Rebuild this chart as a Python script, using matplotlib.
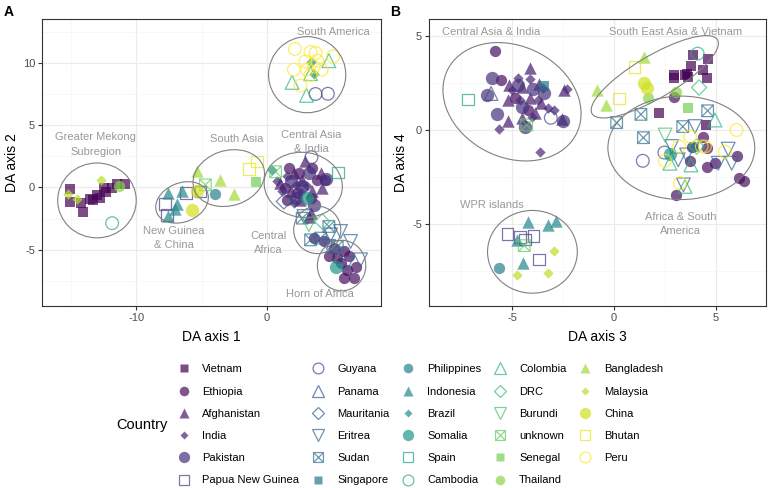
import numpy as np
import matplotlib
matplotlib.use("Agg")
import matplotlib.pyplot as plt
from matplotlib.patches import Ellipse
from matplotlib.path import Path
from matplotlib.lines import Line2D
from matplotlib.ticker import MultipleLocator

plt.rcParams['font.family'] = ['Liberation Sans', 'DejaVu Sans']
plt.rcParams['axes.unicode_minus'] = False

# Countries in legend order (viridis colours, ggplot shape cycle)
countries = ["Vietnam", "Ethiopia", "Afghanistan", "India", "Pakistan",
             "Papua New Guinea", "Guyana", "Panama", "Mauritania", "Eritrea",
             "Sudan", "Singapore", "Philippines", "Indonesia", "Brazil",
             "Somalia", "Spain", "Cambodia", "Colombia", "DRC", "Burundi",
             "unknown", "Senegal", "Thailand", "Bangladesh", "Malaysia",
             "China", "Bhutan", "Peru"]

# Panel A: DA axis 1 / DA axis 2, per country ([x], [y])
pts_a = {
    "Vietnam": ([-15.05, -15.05, -14.2, -14.03, -13.52, -13.01, -12.76, -12.3, -11.86, -11.48, -10.84, -12.45, -13.27],
                [-0.13, -1.18, -1.26, -1.93, -0.94, -0.59, -0.86, -0.4, -0.05, 0.29, 0.29, -0.05, -0.99]),
    "Ethiopia": ([1.66, 3.44, 2.42, 3.83, 1.40, 2.30, 3.32, 4.46, 1.53, 3.57, 4.34, 5.1, 5.87, 5.36, 6.25, 6.76, 5.87, 6.63, 6.12, 4.72, 5.61],
                 [1.55, 1.55, 1.15, 0.61, -0.05, -0.45, -0.86, 0.61, -0.99, -4.06, -4.33, -4.87, -5.13, -5.67, -5.53, -6.34, -7.27, -7.27, -6.6, -5.53, -6.07]),
    "Afghanistan": ([2.86, 2.04, 1.02, 2.68, 4.21, 3.44, 2.55, 1.79, 3.32, 4.08, 3.19],
                    [2.09, 1.15, 0.35, 0.61, -0.05, -0.32, -0.99, -0.32, -2.06, 1.15, -2.33]),
    "India": ([0.77, 1.15, 2.17, 3.06, 2.04, 1.5, 2.6],
              [0.48, -0.32, 0.21, 0.08, -1.26, 0.9, -0.4]),
    "Pakistan": ([2.68, 3.19, 1.79, 3.57, 2.17, 4.5],
                 [0.08, 1.15, 0.48, -1.39, -0.86, 0.7]),
    "Papua New Guinea": ([-7.78, -6.2, -5.1, -7.65], [-1.31, -0.45, -0.32, -2.19]),
    "Guyana": ([3.70, 4.64, 3.39], [7.49, 7.51, 2.43]),
    "Mauritania": ([1.28], [-1.12]),
    "Eritrea": ([2.81, 4.85, 5.61, 6.38, 7.14, 6.12, 4.72, 5.1],
                [-2.33, -3.8, -3.53, -4.33, -5.8, -6.07, -4.73, -5.27]),
    "Sudan": ([2.68, 4.72, 3.32, 4.08, 5.36], [-2.46, -3.13, -4.2, -4.06, -4.73]),
    "Philippines": ([-3.95], [-0.51]),
    "Indonesia": ([-7.58, -6.5, -6.89, -7.02, -7.58], [-0.45, -0.32, -1.31, -1.74, -2.27]),
    "Brazil": ([3.37, 3.57, 0.38], [10.03, 9.06, 1.42]),
    "Somalia": ([3.01, 5.23], [-0.86, -6.34]),
    "Spain": ([5.43], [1.2]),
    "Cambodia": ([-11.84], [-2.86]),
    "Colombia": ([4.72, 1.91, 3.01, 3.32], [10.16, 8.42, 7.38, 9.12]),
    "DRC": ([4.21], [-2.73]),
    "Burundi": ([3.19], [-2.99]),
    "unknown": ([-4.72, 0.65], [0.21, 1.26]),
    "Senegal": ([-0.82], [0.43]),
    "Thailand": ([-11.28], [0.08]),
    "Bangladesh": ([-5.36, -3.62, -2.55], [1.28, 0.61, -0.53]),
    "Malaysia": ([-15.18, -14.54, -12.7], [-0.53, -0.94, 0.61]),
    "China": ([-5.74, -5.36], [-1.79, -0.27]),
    "Bhutan": ([-1.4, -0.77], [1.5, 2.09]),
    "Peru": ([2.12, 3.32, 3.70, 2.93, 3.83, 3.57, 3.06, 4.16, 2.04, 5.03, 2.55, 3.32],
             [11.1, 10.86, 10.78, 10.1, 10.16, 9.7, 9.44, 9.44, 9.44, 10.5, 8.16, 9.04]),
}

# Panel B: DA axis 3 / DA axis 4
pts_b = {
    "Vietnam": ([3.89, 4.62, 3.77, 2.96, 3.56, 4.38, 4.58, 2.96, 3.64, 2.22, 4.49, 3.5],
                [3.98, 3.8, 3.39, 2.92, 3.0, 3.18, 2.74, 2.74, 2.83, 0.88, 0.27, 2.9]),
    "Ethiopia": ([3.81, 4.38, 4.54, 4.54, 4.95, 6.01, 6.13, 6.39, 3.02, 3.73, 2.94, -5.83, -5.56, -4.85, -4.2],
                 [-0.88, -0.35, -0.97, -1.98, -1.77, -1.41, -2.56, -2.7, -3.48, -1.63, 1.77, 4.2, 2.65, 1.68, 1.06]),
    "Afghanistan": ([-4.12, -5.15, -4.53, -3.68, -5.21, -4.12, -5.18, -3.87, -2.43, -2.56, -4.53, -3.59],
                    [3.27, 2.39, 2.3, 2.47, 1.59, 1.68, 0.48, 0.88, 2.12, 0.57, 0.62, 1.41]),
    "India": ([-4.69, -4.12, -4.61, -3.46, -3.25, -2.92, -5.64, -3.63, -4.04, -5.02, -2.32, -3.71],
              [2.74, 2.7, 1.59, 2.21, 1.15, 1.06, 0.04, -1.15, 0.71, 2.12, 2.16, 1.59]),
    "Pakistan": ([-5.96, -6.24, -5.75, -4.36, -4.53, -3.95, -2.48, -3.42, -4.69],
                 [2.74, 1.86, 0.83, 0.18, 1.24, 2.16, 0.49, 1.94, 2.39]),
    "Papua New Guinea": ([-5.23, -4.61, -3.95, -3.68, -4.36], [-5.53, -5.69, -5.65, -6.89, -5.83]),
    "Guyana": ([-3.1, 1.41, 2.47], [0.65, -1.64, -1.2]),
    "Panama": ([-6.03], [1.94]),
    "Eritrea": ([3.97, 5.6, 5.11, 5.77, 3.4, 3.15, 3.56, 2.83],
                [0.18, -1.02, -1.77, -1.77, -2.92, -1.59, -1.33, -0.88]),
    "Sudan": ([0.13, 1.32, 4.59, 1.44, 3.37], [0.39, 0.83, 1.02, -0.41, 0.18]),
    "Singapore": ([-3.42, 3.9], [2.35, -0.9]),
    "Philippines": ([-5.62], [-7.33]),
    "Indonesia": ([-4.23, -3.25, -2.86, -4.77, -4.44], [-4.91, -5.04, -4.86, -5.87, -7.07]),
    "Somalia": ([2.74], [-1.27]),
    "Spain": ([-7.17], [1.63]),
    "Cambodia": ([4.1], [4.06]),
    "Colombia": ([4.95, 3.77, 2.74, 3.48], [0.53, -1.86, -1.77, -3.0]),
    "DRC": ([4.17, 4.05], [2.26, -0.88]),
    "Burundi": ([2.5], [-0.27]),
    "unknown": ([-4.28, -4.4], [0.27, -6.15]),
    "Senegal": ([3.64], [1.15]),
    "Thailand": ([1.65, 3.02], [1.68, 2.03]),
    "Bangladesh": ([1.49, -0.83, -0.39], [3.89, 2.12, 1.33]),
    "Malaysia": ([-2.92, -4.77, -3.22], [-6.45, -7.69, -7.63]),
    "China": ([1.49, 1.6], [2.51, 2.21]),
    "Bhutan": ([1.0, 0.25], [3.36, 1.68]),
    "Peru": ([3.73, 6.01, 5.44, 3.19, 2.5, 3.24, 4.3, 4.46],
             [-0.35, 0.0, -1.15, -0.88, -1.63, -2.83, -0.88, -0.88]),
}

# Group ellipses: (cx, cy, width, height, angle) and labels
ell_a = [(3.06, 9.04, 5.9, 6.1, 0), (-13.0, -1.04, 6.0, 6.0, 0),
         (-6.5, -1.2, 4.2, 3.1, 25), (-2.93, 0.75, 5.6, 4.4, 20),
         (2.76, 0.21, 6.0, 5.2, -10), (3.83, -3.4, 3.6, 3.8, 0),
         (5.69, -6.26, 3.7, 4.05, 0)]
lab_a = [(5.03, 12.46, "South America"), (-13.1, 3.45, "Greater Mekong\nSubregion"),
         (-2.3, 3.88, "South Asia"), (3.4, 3.65, "Central Asia\n& India"),
         (-7.1, -4.05, "New Guinea\n& China"), (0.1, -4.45, "Central\nAfrica"),
         (4.05, -8.53, "Horn of Africa")]
ell_b = [(-5.0, 1.5, 7.2, 5.8, -35), (2.0, 2.83, 7.3, 2.2, 33),
         (3.3, -0.95, 7.2, 5.5, 0), (-4.0, -6.48, 4.4, 4.4, 0)]
lab_b = [(-6.0, 5.21, "Central Asia & India"), (3.02, 5.21, "South East Asia & Vietnam"),
         (-6.0, -4.01, "WPR islands"), (3.25, -5.0, "Africa & South\nAmerica")]

# square with a cross (ggplot shape 7)
sqx = Path([(-1, -1), (1, -1), (1, 1), (-1, 1), (-1, -1), (-1, -1), (1, 1), (-1, 1), (1, -1)],
           [Path.MOVETO, Path.LINETO, Path.LINETO, Path.LINETO, Path.CLOSEPOLY,
            Path.MOVETO, Path.LINETO, Path.MOVETO, Path.LINETO])
# (marker, filled, size)
shape_cycle = [('s', True, 56), ('o', True, 66), ('^', True, 80), ('D', True, 28),
               ('o', True, 92), ('s', False, 70), ('o', False, 84), ('^', False, 98),
               ('D', False, 60), ('v', False, 98), (sqx, False, 70)]
colors = plt.cm.viridis(np.linspace(0, 1, len(countries)))
ALPHA = 0.7

fig = plt.figure(figsize=(7.72, 4.88), dpi=100)
ax_a = fig.add_axes([0.0544, 0.373, 0.4391, 0.588])
ax_b = fig.add_axes([0.5557, 0.373, 0.4365, 0.588])


def draw_panel(ax, pts, ells, labs, xlim, ylim, xlabel, ylabel):
    ax.set_facecolor('white')
    for i, c in enumerate(countries):
        if c not in pts:
            continue
        m, filled, s = shape_cycle[i % 11]
        x, y = pts[c]
        if filled:
            ax.scatter(x, y, marker=m, s=s, color=colors[i], alpha=ALPHA,
                       linewidths=0, zorder=3)
        else:
            ax.scatter(x, y, marker=m, s=s, facecolors='none', edgecolors=colors[i],
                       alpha=ALPHA, linewidths=0.9, zorder=3)
    for cx, cy, w, h, ang in ells:
        ax.add_patch(Ellipse((cx, cy), w, h, angle=ang, fill=False,
                             edgecolor='#808080', linewidth=0.8, zorder=4))
    for x, y, t in labs:
        ax.text(x, y, t, ha='center', va='center', fontsize=8, color='#999999',
                linespacing=1.6, zorder=5)
    ax.set_xlim(*xlim)
    ax.set_ylim(*ylim)
    ax.grid(which='major', color='#EBEBEB', linewidth=0.8)
    ax.grid(which='minor', color='#F5F5F5', linewidth=0.5)
    ax.set_axisbelow(True)
    for sp in ax.spines.values():
        sp.set_color('#333333')
        sp.set_linewidth(0.8)
    ax.tick_params(which='major', length=3, color='#333333', labelsize=8,
                   labelcolor='#4D4D4D', pad=2)
    ax.tick_params(which='minor', length=0)
    ax.set_xlabel(xlabel, fontsize=10, labelpad=5)
    ax.set_ylabel(ylabel, fontsize=10, labelpad=3)


draw_panel(ax_a, pts_a, ell_a, lab_a, (-17.2, 8.7), (-9.5, 13.5), "DA axis 1", "DA axis 2")
ax_a.xaxis.set_major_locator(MultipleLocator(10))
ax_a.xaxis.set_minor_locator(MultipleLocator(5))
ax_a.yaxis.set_major_locator(MultipleLocator(5))
ax_a.yaxis.set_minor_locator(MultipleLocator(2.5))

draw_panel(ax_b, pts_b, ell_b, lab_b, (-9.07, 7.45), (-9.36, 5.9), "DA axis 3", "DA axis 4")
for axis in (ax_b.xaxis, ax_b.yaxis):
    axis.set_major_locator(MultipleLocator(5))
    axis.set_minor_locator(MultipleLocator(2.5))

fig.text(0.005, 0.975, "A", fontsize=10, fontweight='bold', va='center')
fig.text(0.505, 0.975, "B", fontsize=10, fontweight='bold', va='center')

handles = []
for i, c in enumerate(countries):
    m, filled, s = shape_cycle[i % 11]
    if filled:
        h = Line2D([], [], linestyle='none', marker=m, markersize=np.sqrt(s) * 0.85,
                   markerfacecolor=colors[i], markeredgecolor='none', alpha=ALPHA)
    else:
        h = Line2D([], [], linestyle='none', marker=m, markersize=np.sqrt(s) * 0.85,
                   markerfacecolor='none', markeredgecolor=colors[i],
                   markeredgewidth=0.9, alpha=ALPHA)
    handles.append(h)

fig.legend(handles, countries, ncol=5, loc='upper left',
           bbox_to_anchor=(0.2305, 0.2535), frameon=False, fontsize=8,
           handlelength=1.0, handletextpad=1.2, columnspacing=1.2,
           labelspacing=1.1, borderaxespad=0, borderpad=0)
fig.text(0.15, 0.129, "Country", fontsize=10.5, va='center')

fig.savefig("out.png", dpi=100)
